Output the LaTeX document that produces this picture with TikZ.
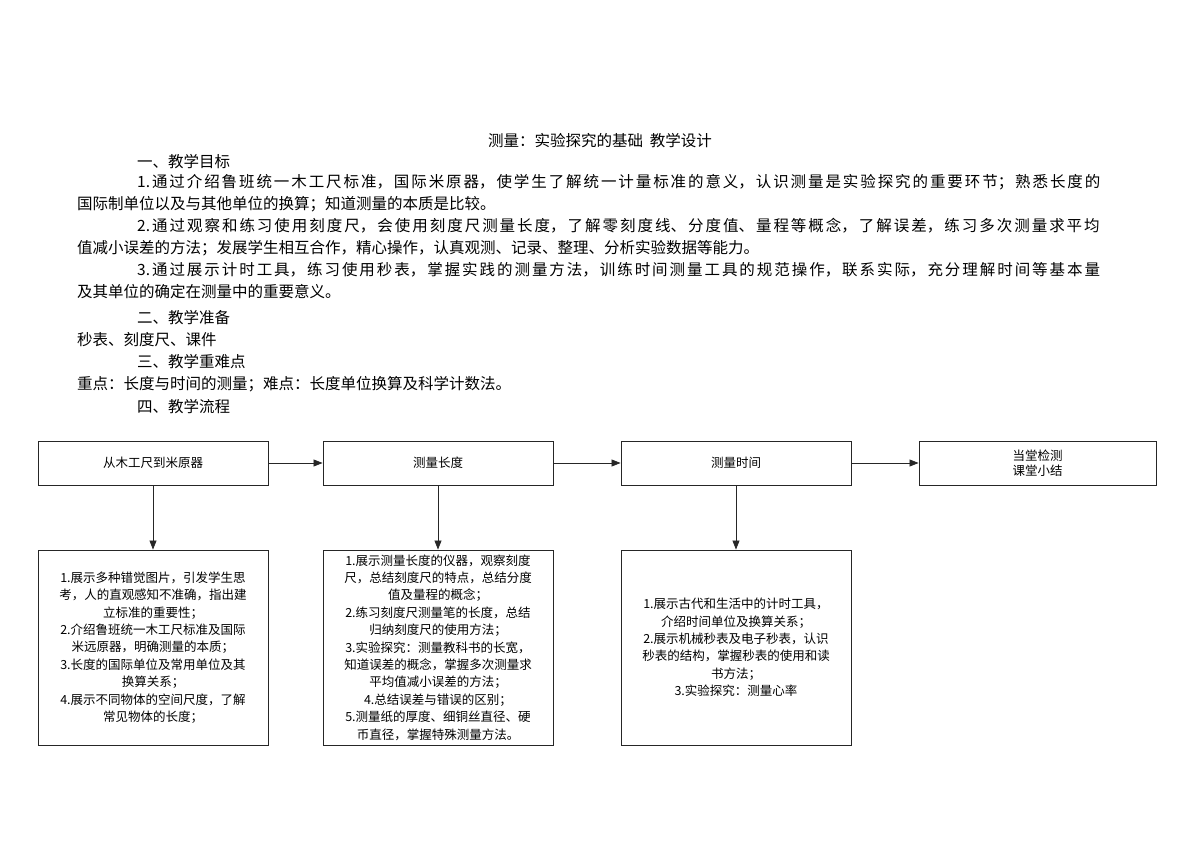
\documentclass[tikz,border=0pt]{standalone}
\usepackage{fontspec}
\setmainfont{Noto Sans CJK SC}
\usetikzlibrary{arrows.meta}
\XeTeXlinebreaklocale "zh"
\XeTeXlinebreakskip=0pt plus 3pt
\begin{document}
\begin{tikzpicture}[x=1pt,y=-1pt,
  box/.style={draw=black!85,line width=0.9pt,minimum width=230pt,minimum height=44pt,font=\fontsize{12.5}{15}\selectfont,align=center},
  big/.style={draw=black!85,line width=0.9pt,minimum width=230pt,minimum height=195pt,font=\fontsize{12.5}{17.4}\selectfont,align=center,inner sep=2pt},
  arr/.style={-{Triangle[length=9pt,width=7pt]},line width=0.8pt,draw=black!85},
  ln/.style={anchor=west,inner sep=0pt,font=\fontsize{15.5}{18}\selectfont},
  par/.style={anchor=north west,inner sep=0pt,text width=1043pt,font=\fontsize{15.5}{22}\selectfont,
    execute at begin node={\setlength{\parindent}{60pt}\indent}}]
\useasboundingbox (0,0) rectangle (1200,848);
\node[inner sep=0pt,font=\fontsize{15.5}{18}\selectfont] (t) at (600,141) {测量：实验探究的基础\ \ 教学设计};
\node[ln] (h1) at (137,162) {一、教学目标};
\node[par] (p1) at (77,174) {1.通过介绍鲁班统一木工尺标准，国际米原器，使学生了解统一计量标准的意义，认识测量是实验探究的重要环节；熟悉长度的\linebreak 国际制单位以及与其他单位的换算；知道测量的本质是比较。\par
2.通过观察和练习使用刻度尺，会使用刻度尺测量长度，了解零刻度线、分度值、量程等概念，了解误差，练习多次测量求平均\linebreak 值减小误差的方法；发展学生相互合作，精心操作，认真观测、记录、整理、分析实验数据等能力。\par
3.通过展示计时工具，练习使用秒表，掌握实践的测量方法，训练时间测量工具的规范操作，联系实际，充分理解时间等基本量\linebreak 及其单位的确定在测量中的重要意义。};
\node[ln] (h2) at (137,318) {二、教学准备};
\node[ln] (l2) at (77,340) {秒表、刻度尺、课件};
\node[ln] (h3) at (137,362) {三、教学重难点};
\node[ln] (l3) at (77,384) {重点：长度与时间的测量；难点：长度单位换算及科学计数法。};
\node[ln] (h4) at (137,407) {四、教学流程};

\node[box] (a) at (153,463) {从木工尺到米原器};
\node[box] (b) at (438,463) {测量长度};
\node[box] (c) at (736,463) {测量时间};
\node[box,minimum width=237pt] (d) at (1037.5,463) {当堂检测\\课堂小结};
\draw[arr] (a) -- (b);
\draw[arr] (b) -- (c);
\draw[arr] (c) -- (d);

\node[big] (a2) at (153,647.5) {1.展示多种错觉图片，引发学生思\\考，人的直观感知不准确，指出建\\立标准的重要性；\\2.介绍鲁班统一木工尺标准及国际\\米远原器，明确测量的本质；\\3.长度的国际单位及常用单位及其\\换算关系；\\4.展示不同物体的空间尺度，了解\\常见物体的长度；};
\node[big] (b2) at (438,647.5) {1.展示测量长度的仪器，观察刻度\\尺，总结刻度尺的特点，总结分度\\值及量程的概念；\\2.练习刻度尺测量笔的长度，总结\\归纳刻度尺的使用方法；\\3.实验探究：测量教科书的长宽，\\知道误差的概念，掌握多次测量求\\平均值减小误差的方法；\\4.总结误差与错误的区别；\\5.测量纸的厚度、细铜丝直径、硬\\币直径，掌握特殊测量方法。};
\node[big] (c2) at (736,647.5) {1.展示古代和生活中的计时工具，\\介绍时间单位及换算关系；\\2.展示机械秒表及电子秒表，认识\\秒表的结构，掌握秒表的使用和读\\书方法；\\3.实验探究：测量心率};
\draw[arr] (a) -- (a2);
\draw[arr] (b) -- (b2);
\draw[arr] (c) -- (c2);
\end{tikzpicture}
\end{document}
